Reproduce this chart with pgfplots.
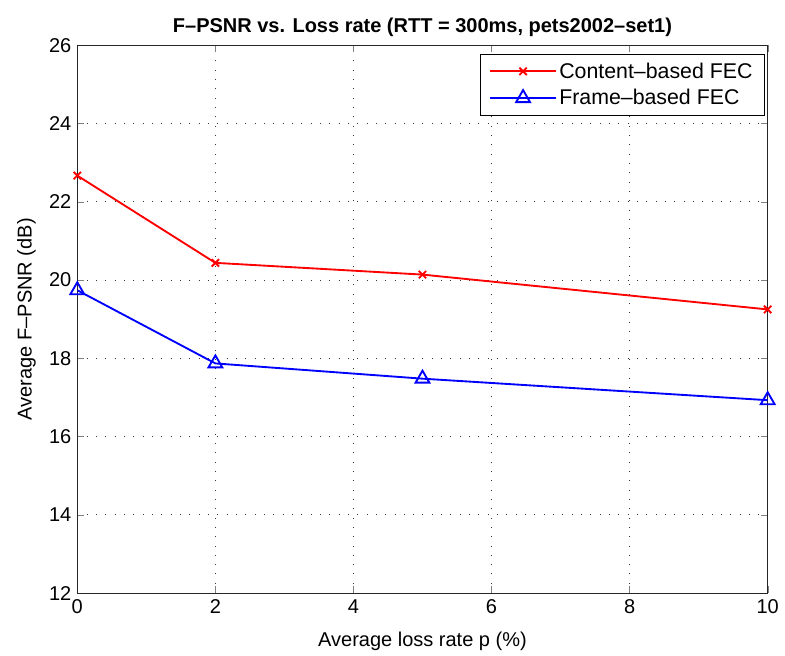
\documentclass[border=0pt]{standalone}
\usepackage{pgfplots}
\pgfplotsset{compat=1.18}
\usepackage{fontspec}
\setmainfont{Liberation Sans}
\begin{document}
\begin{tikzpicture}
\begin{axis}[
  name=ax,
  scale only axis,
  width=518pt, height=411pt,
  xmin=0, xmax=10, ymin=12, ymax=26,
  xtick={0,2,4,6,8,10},
  ytick={12,14,16,18,20,22,24,26},
  /pgf/number format/assume math mode=true,
  tick label style={font=\fontsize{15}{17}\selectfont},
  label style={font=\fontsize{15}{17}\selectfont},
  xlabel={Average loss rate p (\%)},
  ylabel={Average F\textendash PSNR (dB)},
  title={\bfseries F\textendash PSNR vs. Loss rate (RTT = 300ms, pets2002\textendash set1)},
  title style={font=\fontsize{15}{17}\selectfont, yshift=-3pt},
  xticklabel style={yshift=-1.5pt},
  yticklabel style={xshift=-1pt},
  xlabel style={yshift=-7pt},
  ylabel style={yshift=3pt},
  grid=major,
  major grid style={black!80, dash pattern=on 0.7pt off 6.3pt, line width=0.7pt},
  tick align=inside,
  major tick length=5pt,
  axis line style={black!85, line width=0.7pt},
  legend style={at={(0.996,0.985)}, anchor=north east, draw=black, line width=0.6pt,
    font=\fontsize{16}{18.5}\selectfont, row sep=3pt, inner xsep=7pt, inner ysep=4.5pt},
  legend cell align=left,
  legend image code/.code={
    \draw[mark repeat=2,mark phase=2] plot coordinates {(0cm,0cm) (0.86cm,0cm) (1.72cm,0cm)};
  },
]
\addplot[red, line width=1.4pt, mark=x, mark size=3.9pt, mark options={line width=1.4pt}]
  coordinates {(0,22.67) (2,20.44) (5,20.14) (10,19.25)};
\addlegendentry{Content\textendash based FEC}
\addplot[blue, line width=1.4pt, mark=triangle, mark size=6pt, mark options={line width=1.4pt}]
  coordinates {(0,19.74) (2,17.87) (5,17.48) (10,16.93)};
\addlegendentry{Frame\textendash based FEC}
\end{axis}
\path ([shift={(-58pt,-45pt)}]ax.south west) rectangle ([shift={(13pt,34pt)}]ax.north east);
\end{tikzpicture}
\end{document}
